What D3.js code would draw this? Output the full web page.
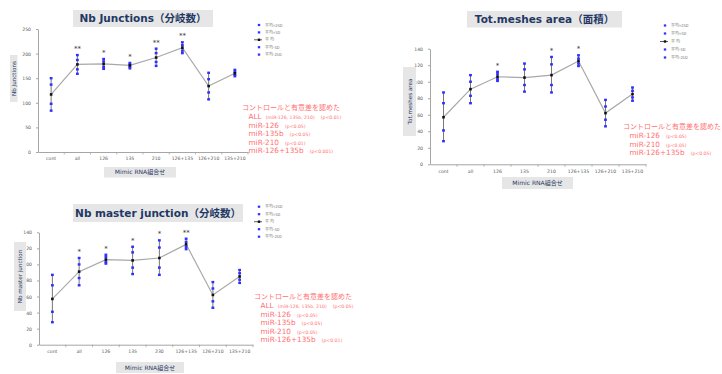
<!DOCTYPE html>
<html><head><meta charset="utf-8">
<script src="https://cdn.jsdelivr.net/npm/d3@7"></script>
<style>
  body { margin: 0; background: #fff; }
  svg { display: block; }
</style>
</head>
<body>
<svg id="chart" width="722" height="374"></svg>
<script>
// ---- categories (mimic RNA combinations) ----
const categories = ["cont", "all", "126", "135", "210", "126+135", "126+210", "135+210"];
const masterCategories = ["cont", "all", "126", "135", "230", "126+135", "126+210", "135+210"];

// ---- Nb Junctions ----
const junctionPlus2SD  = [150, 197, 189, 181, 210, 223, 161, 167];
const junctionPlusSD   = [137, 187, 184, 178, 201, 217, 148, 163];
const junctionMean     = [117, 178, 179, 176, 192, 212, 134, 160];
const junctionMinusSD  = [ 98, 168, 173, 173, 183, 206, 121, 157];
const junctionMinus2SD = [ 84, 159, 169, 170, 175, 201, 107, 154];
const junctionStars    = ["", "**", "*", "*", "**", "**", "", ""];
const junctionTicks    = [0, 50, 100, 150, 200, 250];

// ---- Tot.meshes area ----
const meshPlus2SD  = [87, 108, 112, 122, 130, 132, 78, 93];
const meshPlusSD   = [74, 100, 109, 115, 121, 128, 70, 89];
const meshMean     = [57,  91, 106, 105, 108, 125, 62, 85];
const meshMinusSD  = [41,  83, 103,  96,  96, 122, 54, 81];
const meshMinus2SD = [28,  74, 101,  88,  87, 119, 46, 77];
const meshStars    = ["", "", "*", "", "*", "*", "", ""];
const meshTicks    = [0, 20, 40, 60, 80, 100, 120, 140];

// ---- Nb master junction ----
const masterPlus2SD  = [87, 108, 112, 122, 130, 132, 78, 93];
const masterPlusSD   = [74, 100, 109, 115, 121, 128, 70, 89];
const masterMean     = [57,  91, 106, 105, 108, 125, 62, 85];
const masterMinusSD  = [41,  83, 103,  96,  96, 122, 54, 81];
const masterMinus2SD = [28,  74, 101,  88,  87, 119, 46, 77];
const masterStars    = ["", "*", "*", "*", "*", "**", "", ""];
const masterTicks    = [0, 20, 40, 60, 80, 100, 120, 140];

// ---- legend and notes ----
const legendLabels = ["平均+2SD", "平均+SD", "平 均", "平均-SD", "平均-2SD"];
const noteHeader = "コントロールと有意差を認めた";
const junctionNotes = [
  ["ALL", "(miR-126, 135b, 210)", "(p<0.01)"],
  ["miR-126", "", "(p<0.05)"],
  ["miR-135b", "", "(p<0.05)"],
  ["miR-210", "", "(p<0.01)"],
  ["miR-126+135b", "", "(p<0.001)"]
];
const meshNotes = [
  ["miR-126", "", "(p<0.05)"],
  ["miR-210", "", "(p<0.05)"],
  ["miR-126+135b", "", "(p<0.05)"]
];
const masterNotes = [
  ["ALL", "(miR-126, 135b, 210)", "(p<0.05)"],
  ["miR-126", "", "(p<0.05)"],
  ["miR-135b", "", "(p<0.05)"],
  ["miR-210", "", "(p<0.05)"],
  ["miR-126+135b", "", "(p<0.01)"]
];

const NAVY = "#1f3864";
const BOX = "#e6e6e6";
const BLUE = "#2f2fff";
const NOTE = "#ff7070";
const AXIS = "#a6a6a6";

const svg = d3.select("#chart");

const panels = [
  {
    title: "Nb Junctions（分岐数）", titleBox: [73, 10, 140, 17], titleY: 22,
    yLabel: "Nb Junctions", yLabelBox: [10, 55, 7.5, 47],
    xLabel: "Mimic RNA組合せ", xLabelBox: [104, 167, 72, 10.5],
    cats: categories, ticks: junctionTicks, yMax: 250,
    x0: 38, x1: 248, yTop: 29, yBottom: 152,
    series: [junctionPlus2SD, junctionPlusSD, junctionMean, junctionMinusSD, junctionMinus2SD],
    stars: junctionStars,
    legend: { x: 259, y: 25, dy: 7.4 },
    notes: junctionNotes, noteX: 242, noteY: 110, noteDy: 8.6
  },
  {
    title: "Tot.meshes area（面積）", titleBox: [467, 11, 155, 16.5], titleY: 23,
    yLabel: "Tot.meshes area", yLabelBox: [403, 67, 13, 69],
    xLabel: "Mimic RNA組合せ", xLabelBox: [502, 177, 71, 12],
    cats: categories, ticks: meshTicks, yMax: 140,
    x0: 430, x1: 646, yTop: 48.7, yBottom: 164.3,
    series: [meshPlus2SD, meshPlusSD, meshMean, meshMinusSD, meshMinus2SD],
    stars: meshStars,
    legend: { x: 665, y: 25.5, dy: 8 },
    notes: meshNotes, noteX: 623, noteY: 129, noteDy: 8.6
  },
  {
    title: "Nb master junction（分岐数）", titleBox: [73, 204, 170, 18], titleY: 216.5,
    yLabel: "Nb master junction", yLabelBox: [14, 242, 12, 69],
    xLabel: "Mimic RNA組合せ", xLabelBox: [116, 362, 68, 11],
    cats: masterCategories, ticks: masterTicks, yMax: 140,
    x0: 39, x1: 253, yTop: 232.3, yBottom: 344.7,
    series: [masterPlus2SD, masterPlusSD, masterMean, masterMinusSD, masterMinus2SD],
    stars: masterStars,
    legend: { x: 259, y: 206.7, dy: 7.5 },
    notes: masterNotes, noteX: 254, noteY: 299, noteDy: 8.6
  }
];

function drawPanel(p) {
  const g = svg.append("g");
  const x = d3.scaleBand().domain(p.cats).range([p.x0, p.x1]);
  const y = d3.scaleLinear().domain([0, p.yMax]).range([p.yBottom, p.yTop]);
  const cx = i => x(p.cats[i]) + x.bandwidth() / 2;

  // title
  g.append("rect").attr("x", p.titleBox[0]).attr("y", p.titleBox[1])
    .attr("width", p.titleBox[2]).attr("height", p.titleBox[3]).attr("fill", BOX);
  g.append("text").attr("x", p.titleBox[0] + p.titleBox[2] / 2).attr("y", p.titleY)
    .attr("text-anchor", "middle").attr("font-family", "'DejaVu Sans', 'Noto Sans CJK JP', sans-serif")
    .attr("font-weight", "bold").attr("font-size", 10.5).attr("fill", NAVY).text(p.title);

  // y axis
  const yAxis = d3.axisLeft(y).tickValues(p.ticks).tickSize(2).tickPadding(5).tickSizeOuter(0);
  const ya = g.append("g").attr("transform", `translate(${p.x0},0)`).call(yAxis);
  ya.select(".domain").attr("stroke", AXIS);
  ya.selectAll(".tick line").attr("stroke", AXIS);
  ya.selectAll(".tick text").attr("font-family", "'DejaVu Sans', sans-serif")
    .attr("font-size", 4.6).attr("fill", "#595959");

  // x axis
  const xAxis = d3.axisBottom(x).tickSize(0).tickPadding(5).tickSizeOuter(0);
  const xa = g.append("g").attr("transform", `translate(0,${p.yBottom})`).call(xAxis);
  xa.select(".domain").attr("stroke", AXIS);
  xa.selectAll(".tick text").attr("font-family", "'DejaVu Sans', sans-serif")
    .attr("font-size", 4.6).attr("fill", "#595959");
  g.selectAll(null).data(p.cats.slice(1).concat(["__end"])).join("line")
    .attr("x1", d => d === "__end" ? p.x1 : x(d)).attr("x2", d => d === "__end" ? p.x1 : x(d))
    .attr("y1", p.yBottom).attr("y2", p.yBottom + 2.5).attr("stroke", AXIS).attr("stroke-width", 0.8);

  // axis titles
  const yb = p.yLabelBox;
  g.append("rect").attr("x", yb[0]).attr("y", yb[1]).attr("width", yb[2]).attr("height", yb[3]).attr("fill", BOX);
  g.append("text").attr("transform", `translate(${yb[0] + yb[2] / 2 + 2},${yb[1] + yb[3] / 2}) rotate(-90)`)
    .attr("text-anchor", "middle").attr("font-family", "'DejaVu Sans', sans-serif")
    .attr("font-size", 5.6).attr("fill", NAVY).text(p.yLabel);
  const xb = p.xLabelBox;
  g.append("rect").attr("x", xb[0]).attr("y", xb[1]).attr("width", xb[2]).attr("height", xb[3]).attr("fill", BOX);
  g.append("text").attr("x", xb[0] + xb[2] / 2).attr("y", xb[1] + xb[3] / 2 + 2.2)
    .attr("text-anchor", "middle").attr("font-family", "'DejaVu Sans', 'Noto Sans CJK JP', sans-serif")
    .attr("font-size", 6).attr("fill", NAVY).text(p.xLabel);

  const [p2, p1, mean, m1, m2] = p.series;

  // error bars spanning mean ± 2SD
  g.selectAll(null).data(mean).join("line")
    .attr("x1", (d, i) => cx(i)).attr("x2", (d, i) => cx(i))
    .attr("y1", (d, i) => y(p2[i])).attr("y2", (d, i) => y(m2[i]))
    .attr("stroke", "#555").attr("stroke-width", 0.8);

  // mean line
  g.append("path").datum(mean)
    .attr("d", d3.line().x((d, i) => cx(i)).y(d => y(d)))
    .attr("fill", "none").attr("stroke", "#a8a8a8").attr("stroke-width", 1.2);

  // ± SD markers
  [p2, p1, m1, m2].forEach(s => {
    g.selectAll(null).data(s).join("rect")
      .attr("x", (d, i) => cx(i) - 1.4).attr("y", d => y(d) - 1.2)
      .attr("width", 2.8).attr("height", 2.4).attr("fill", BLUE);
  });
  // mean markers
  g.selectAll(null).data(mean).join("rect")
    .attr("x", (d, i) => cx(i) - 1.3).attr("y", d => y(d) - 1.3)
    .attr("width", 2.6).attr("height", 2.6).attr("fill", "#111");

  // significance marks
  g.selectAll(null).data(p.stars).join("text")
    .attr("x", (d, i) => cx(i)).attr("y", (d, i) => y(p2[i]) - 4)
    .attr("text-anchor", "middle").attr("font-family", "'DejaVu Sans', sans-serif")
    .attr("font-size", 7).attr("fill", "#333").text(d => d);

  // legend
  const lg = g.append("g");
  legendLabels.forEach((lab, i) => {
    const ly = p.legend.y + i * p.legend.dy;
    if (i === 2) {
      lg.append("line").attr("x1", p.legend.x - 5).attr("x2", p.legend.x + 3)
        .attr("y1", ly).attr("y2", ly).attr("stroke", "#333").attr("stroke-width", 0.8);
      lg.append("rect").attr("x", p.legend.x - 1.2).attr("y", ly - 1.2)
        .attr("width", 2.4).attr("height", 2.4).attr("fill", "#111");
    } else {
      lg.append("rect").attr("x", p.legend.x - 1.2).attr("y", ly - 1.1)
        .attr("width", 2.4).attr("height", 2.2).attr("fill", BLUE);
    }
    lg.append("text").attr("x", p.legend.x + 6).attr("y", ly + 1.5)
      .attr("font-family", "'Noto Sans CJK JP', sans-serif").attr("font-size", 4)
      .attr("fill", "#777").text(lab);
  });

  // notes on significant differences from control
  const ng = g.append("g").attr("fill", NOTE);
  ng.append("text").attr("x", p.noteX).attr("y", p.noteY)
    .attr("font-family", "'Noto Sans CJK JP', sans-serif").attr("font-size", 7).text(noteHeader);
  p.notes.forEach((n, i) => {
    const t = ng.append("text").attr("x", p.noteX + 6.5).attr("y", p.noteY + 0.4 + (i + 1) * p.noteDy)
      .attr("font-family", "'DejaVu Sans', sans-serif");
    t.append("tspan").attr("font-size", 7.3).text(n[0]);
    if (n[1]) t.append("tspan").attr("dx", 4).attr("font-size", 4.6).text(n[1]);
    t.append("tspan").attr("dx", 6).attr("font-size", 4.6).text(n[2]);
  });
}

panels.forEach(drawPanel);
</script>
</body>
</html>
